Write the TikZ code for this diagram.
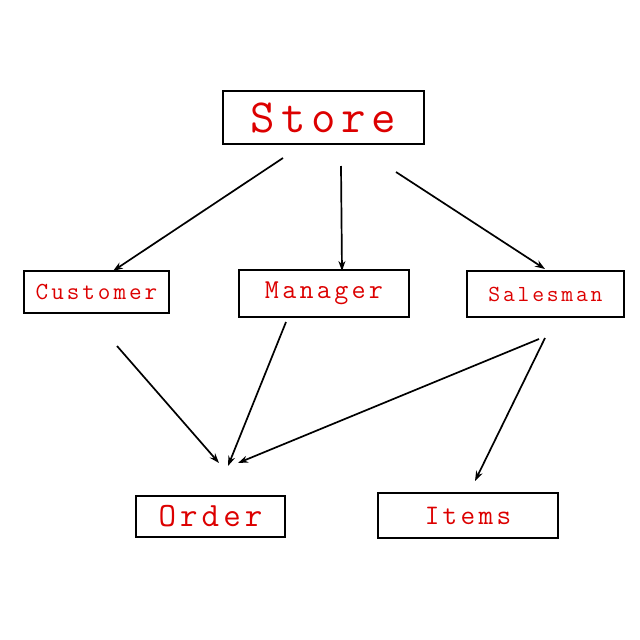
\documentclass[tikz,border=0pt]{standalone}
\usepackage{fontspec}
\newfontfamily\labelfont[LetterSpace=12]{Latin Modern Mono}
\usetikzlibrary{arrows.meta}
\definecolor{labelred}{RGB}{220,0,0}

\tikzset{
    box/.style={draw, line width=1.2pt, rectangle, inner sep=0pt, text=labelred},
    link/.style={line width=1.7pt, -{Stealth[length=10pt, width=7pt]}}
}

\begin{document}
\begin{tikzpicture}[x=1pt, y=-1pt]
    \useasboundingbox (0,0) rectangle (640,640);

    % --- Klassen ---
    \node[box, minimum width=201pt, minimum height=53pt, font=\labelfont\fontsize{47.5}{47.5}\selectfont] (store) at (323.5,117.5) {Store};
    \node[box, minimum width=145pt, minimum height=42pt, font=\labelfont\fontsize{24.5}{24.5}\selectfont] (customer) at (96.5,292) {Customer};
    \node[box, minimum width=170pt, minimum height=47pt, font=\labelfont\fontsize{27.3}{27.3}\selectfont] (manager) at (324,293.5) {Manager};
    \node[box, minimum width=157pt, minimum height=46pt, font=\labelfont\fontsize{23}{23}\selectfont] (salesman) at (545.5,294) {Salesman};
    \node[box, minimum width=149pt, minimum height=41pt, font=\labelfont\fontsize{34}{34}\selectfont] (order) at (210.5,516.5) {Order};
    \node[box, minimum width=180pt, minimum height=45pt, font=\labelfont\fontsize{28.3}{28.3}\selectfont] (items) at (468,515.5) {Items};

    % --- Endpunkte der Pfeile ---
    \coordinate (store-c) at (283,158);
    \coordinate (store-m) at (341,166);
    \coordinate (store-s) at (396,172);
    \coordinate (customer-in) at (113,271);
    \coordinate (manager-in) at (342,271);
    \coordinate (salesman-in) at (545,269);
    \coordinate (customer-out) at (117,346);
    \coordinate (manager-out) at (286,322);
    \coordinate (salesman-o) at (539,339);
    \coordinate (salesman-i) at (545,338);
    \coordinate (order-c) at (219,463);
    \coordinate (order-m) at (228,466);
    \coordinate (order-s) at (238,463);
    \coordinate (items-in) at (475,481);

    % --- Pfeile ---
    \draw[link] (store-c) -- (customer-in);
    \draw[link] (store-m) -- (manager-in);
    \draw[link] (store-s) -- (salesman-in);
    \draw[link] (customer-out) -- (order-c);
    \draw[link] (manager-out) -- (order-m);
    \draw[link] (salesman-o) -- (order-s);
    \draw[link] (salesman-i) -- (items-in);
\end{tikzpicture}
\end{document}
